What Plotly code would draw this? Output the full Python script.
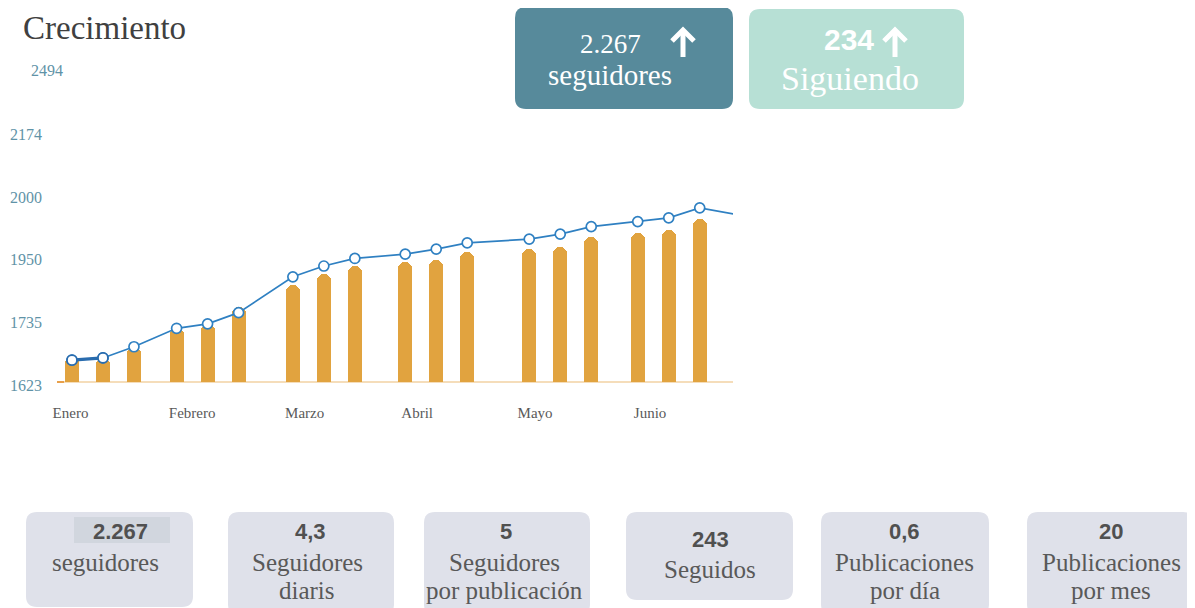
import numpy as np
import pandas as pd
import plotly.graph_objects as go

# ---------------- data ----------------
dates = ["2023-01-06", "2023-01-14", "2023-01-22", "2023-02-02", "2023-02-10", "2023-02-18",
         "2023-03-04", "2023-03-12", "2023-03-20", "2023-04-02", "2023-04-10", "2023-04-18",
         "2023-05-04", "2023-05-12", "2023-05-20", "2023-06-01", "2023-06-09", "2023-06-17"]
line_dates = dates + ["2023-06-26"]
bar_values = [1668, 1666, 1686, 1720, 1727, 1777, 1853, 1891, 1918, 1932, 1939, 1954,
              1956, 1958, 1966, 1969, 1971, 1980]
line_values = [1662, 1666, 1686, 1719, 1727, 1758, 1881, 1918, 1944, 1952, 1956, 1961,
               1964, 1968, 1974, 1978, 1981, 1989, 1984]
y_tick_values = [1623, 1735, 1950, 2000, 2174, 2494]
y_tick_labels = ["1623", "1735", "1950", "2000", "2174", "2494"]
month_tick_dates = ["2023-01-01", "2023-01-31", "2023-03-02", "2023-04-01", "2023-05-01", "2023-05-31"]
month_labels = ["Enero", "Febrero", "Marzo", "Abril", "Mayo", "Junio"]

kpi_top = [("2.267", "seguidores"), ("234", "Siguiendo")]
kpi_numbers = ["2.267", "4,3", "5", "243", "0,6", "20"]
kpi_labels = [["seguidores"], ["Seguidores", "diaris"], ["Seguidores", "por publicación"],
              ["Seguidos"], ["Publicaciones", "por día"], ["Publicaciones", "por mes"]]

# ---------------- geometry helpers (screen pixels; page has an 8px body margin) ----------------
SCREEN_W, SCREEN_H = 1195, 608
OFF = 8
L, R, T, B = 50, 733, 60, 392
PX_PER_STEP = 62.65
BASE_PX = 382


def px(xp):
    return (xp - L) / (R - L)


def py(yp):
    return (B - yp) / (B - T)


def idx(v):
    return np.interp(v, y_tick_values, np.arange(len(y_tick_values)))


def rrect(x0, y0, x1, y1, r):
    X0, X1 = px(x0), px(x1)
    Y0, Y1 = py(y0), py(y1)
    rx = r / (R - L)
    ry = r / (B - T)
    return (f"M{X0+rx},{Y0} L{X1-rx},{Y0} Q{X1},{Y0} {X1},{Y0-ry} "
            f"L{X1},{Y1+ry} Q{X1},{Y1} {X1-rx},{Y1} L{X0+rx},{Y1} "
            f"Q{X0},{Y1} {X0},{Y1+ry} L{X0},{Y0-ry} Q{X0},{Y0} {X0+rx},{Y0} Z")


def ppath(points):
    return "M" + " L".join(f"{px(a)},{py(b)}" for a, b in points)


day_px = 3.875
origin_px = 52.6
t0 = pd.Timestamp("2023-01-01")
x_range = [str(t0 + pd.Timedelta(days=(L - origin_px) / day_px)),
           str(t0 + pd.Timedelta(days=(R - origin_px) / day_px))]
y_range = [(BASE_PX - B) / PX_PER_STEP, (BASE_PX - T) / PX_PER_STEP]

SERIF = "Liberation Serif"
SANS = "Liberation Sans"
TEAL_TXT = "#5F93A7"
GREY_TXT = "#595959"
BLUE = "#2F80C2"

fig = go.Figure()

fig.add_trace(go.Bar(
    x=dates, y=idx(bar_values), width=3.6 * 86400000,
    marker=dict(color="#E1A33F", cornerradius="50%", line=dict(width=0)),
    hoverinfo="skip", showlegend=False))

fig.add_trace(go.Scatter(
    x=line_dates, y=idx(line_values), mode="lines+markers",
    line=dict(color=BLUE, width=1.7),
    marker=dict(size=[10] * len(dates) + [0], color="white", opacity=1,
                line=dict(color=BLUE, width=1.7)),
    hoverinfo="skip", showlegend=False))

fig.add_trace(go.Scatter(
    x=line_dates[:2], y=idx(line_values[:2]), mode="lines+markers",
    line=dict(color="#2A6CAE", width=3.2),
    marker=dict(size=10, color="white", opacity=1, line=dict(color="#2A6CAE", width=1.8)),
    hoverinfo="skip", showlegend=False))

shapes = []
# baseline
shapes.append(dict(type="line", xref="paper", yref="y", x0=px(57), x1=1, y0=0, y1=0,
                   line=dict(color="#F5DDBA", width=2), layer="below"))
shapes.append(dict(type="line", xref="paper", yref="y", x0=px(57), x1=px(64), y0=0, y1=0,
                   line=dict(color="#E8A04A", width=2), layer="below"))
# clip of lowest y tick label
shapes.append(dict(type="rect", xref="paper", yref="paper", x0=px(0), x1=px(55),
                   y0=py(400), y1=py(391), fillcolor="white", line=dict(width=0), layer="above"))
# top KPI boxes
shapes.append(dict(type="path", xref="paper", yref="paper", path=rrect(515, 7, 733, 109, 11),
                   fillcolor="#578A9B", line=dict(width=0), layer="above"))
shapes.append(dict(type="path", xref="paper", yref="paper", path=rrect(749, 9, 964, 109, 11),
                   fillcolor="#B7E0D5", line=dict(width=0), layer="above"))
# up arrows
for cx in (683, 895):
    shapes.append(dict(type="path", xref="paper", yref="paper",
                       path=ppath([(cx - 11, 41), (cx, 30), (cx + 11, 41)]),
                       line=dict(color="white", width=5), layer="above"))
    shapes.append(dict(type="path", xref="paper", yref="paper",
                       path=ppath([(cx, 32), (cx, 57)]),
                       line=dict(color="white", width=5), layer="above"))
# bottom KPI boxes
box_x = [(26, 193), (228, 394), (424, 590), (626, 793), (821, 989), (1027, 1194)]
box_bottom = [607, 615, 615, 600, 615, 615]
for (a, b), bb in zip(box_x, box_bottom):
    shapes.append(dict(type="path", xref="paper", yref="paper", path=rrect(a, 512, b, bb, 11),
                       fillcolor="#DFE1EA", line=dict(width=0), layer="above"))
shapes.append(dict(type="rect", xref="paper", yref="paper", x0=px(74), x1=px(170),
                   y0=py(543), y1=py(517), fillcolor="#D1D6DE", line=dict(width=0), layer="above"))

ann = []


def text(xp, yp, s, size, color, family, xanchor="center"):
    ann.append(dict(x=px(xp), y=py(yp), xref="paper", yref="paper", text=s, showarrow=False,
                    xanchor=xanchor, yanchor="middle", font=dict(size=size, color=color, family=family)))


text(21, 28, "Crecimiento", 33, "#404040", SERIF, xanchor="left")
text(29, 70, y_tick_labels[-1], 16, TEAL_TXT, SERIF, xanchor="left")

# top boxes
text(610, 44, kpi_top[0][0], 27, "white", SERIF)
text(610, 75, kpi_top[0][1], 29, "white", SERIF)
text(849, 40, "<b>" + kpi_top[1][0] + "</b>", 30, "white", SANS)
text(850, 78, kpi_top[1][1], 34, "white", SERIF)

# bottom boxes
num_y = [531, 531, 531, 539, 531, 531]
lab_y = [[562], [562, 590], [562, 590], [569], [562, 590], [562, 590]]
num_x = [120, 310, 506, 710, 905, 1111]
lab_x = [105, 307, 504, 710, 905, 1111]
for i in range(6):
    text(num_x[i], num_y[i], "<b>" + kpi_numbers[i] + "</b>", 22, "#505050", SANS)
    for line, ly in zip(kpi_labels[i], lab_y[i]):
        text(lab_x[i], ly, line, 25, GREY_TXT, SERIF)

fig.update_layout(
    width=SCREEN_W - OFF, height=SCREEN_H - OFF,
    margin=dict(l=L - OFF, r=SCREEN_W - R, t=T - OFF, b=SCREEN_H - B, pad=0, autoexpand=False),
    paper_bgcolor="white", plot_bgcolor="white",
    bargap=0, barmode="overlay",
    shapes=shapes, annotations=ann,
    xaxis=dict(type="date", range=x_range, tickvals=month_tick_dates, ticktext=month_labels,
               ticklabelposition="outside right", ticks="", showgrid=False, zeroline=False,
               showline=False, ticklabelstandoff=10, automargin=False,
               tickfont=dict(family=SERIF, size=15, color=GREY_TXT)),
    yaxis=dict(range=y_range, tickvals=list(range(5)), ticktext=y_tick_labels[:5],
               ticks="", showgrid=False, zeroline=False, showline=False,
               ticklabelshift=3, ticklabelstandoff=7, automargin=False,
               tickfont=dict(family=SERIF, size=16, color=TEAL_TXT)),
)

fig.write_html("out.html")
